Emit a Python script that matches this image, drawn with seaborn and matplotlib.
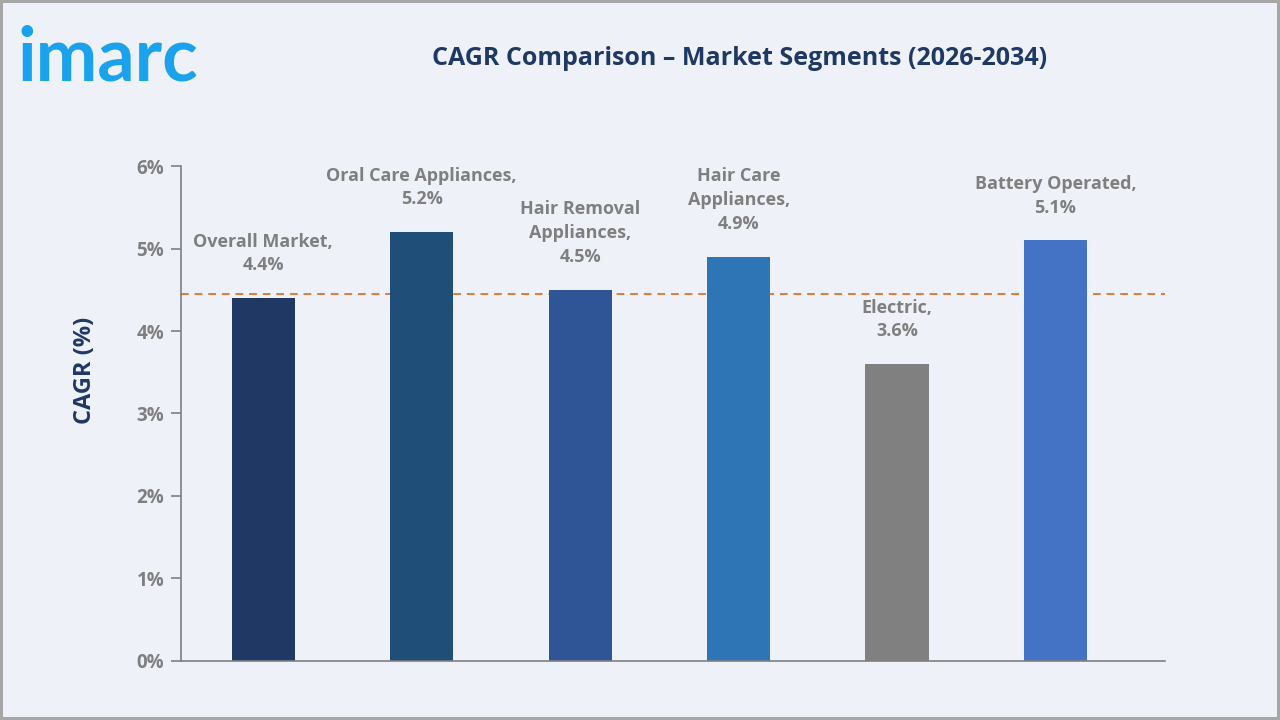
import matplotlib
matplotlib.use("Agg")
import matplotlib.pyplot as plt
import numpy as np
import pandas as pd
import seaborn as sns

# data
segments = ["Overall Market", "Oral Care Appliances", "Hair Removal Appliances",
            "Hair Care Appliances", "Electric", "Battery Operated"]
label_text = ["Overall Market,", "Oral Care Appliances,", "Hair Removal\nAppliances,",
              "Hair Care\nAppliances,", "Electric,", "Battery Operated,"]
cagr = [4.4, 5.2, 4.5, 4.9, 3.6, 5.1]
reference_line = 4.45
y_ticks = [0, 1, 2, 3, 4, 5, 6]

colors = ["#1F3864", "#1F4E79", "#2F5597", "#2E75B6", "#808080", "#4472C4"]
BG = "#EEF2F8"
NAVY = "#1F3864"
GREY = "#7F7F7F"

sns.set_theme(style="white")
plt.rcParams["font.family"] = ["Open Sans", "DejaVu Sans"]

df = pd.DataFrame({"segment": segments, "cagr": cagr})

fig = plt.figure(figsize=(12.8, 7.2), dpi=100)
fig.patch.set_facecolor(BG)
fig.patch.set_edgecolor("#A6A6A6")
fig.patch.set_linewidth(3)

ax = fig.add_axes([0.1414, 0.082, 0.7686, 0.6874])
ax.set_facecolor(BG)

ax.axhline(reference_line, color="#E07B39", linestyle=(0, (4, 3)), linewidth=1.4, zorder=1)

sns.barplot(data=df, x="segment", y="cagr", hue="segment", palette=colors,
            width=0.4, legend=False, ax=ax, zorder=2, saturation=1, linewidth=0)

for i, (txt, v) in enumerate(zip(label_text, cagr)):
    ax.annotate(f"{txt}\n{v:.1f}%", (i, v), xytext=(0, 17), textcoords="offset points",
                ha="center", va="bottom", fontsize=13, fontweight="bold",
                color=GREY, linespacing=1.42)

ax.set_ylim(0, 6)
ax.set_xlim(-0.52, 5.69)
ax.set_yticks(y_ticks)
ax.set_yticklabels([f"{t}%" for t in y_ticks], fontsize=13.5, fontweight="bold", color=GREY)
ax.set_xticks([])
ax.set_xlabel("")
ax.set_ylabel("CAGR (%)", fontsize=17, fontweight="bold", color=NAVY)
ax.yaxis.set_label_coords(-0.085, 0.588)
ax.tick_params(axis="y", which="both", left=True, length=7, width=1.2, color=GREY, pad=5)

for s in ["top", "right"]:
    ax.spines[s].set_visible(False)
for s in ["left", "bottom"]:
    ax.spines[s].set_color(GREY)
    ax.spines[s].set_linewidth(1.2)

fig.text(0.578, 0.919, "CAGR Comparison \u2013 Market Segments (2026-2034)",
         ha="center", va="center", fontsize=18, fontweight="bold", color=NAVY)

# logo
fig.text(0.014, 0.918, "imarc", ha="left", va="center", fontsize=53,
         fontweight="bold", color="#1AA3EC", family=["Lato", "DejaVu Sans"])

fig.savefig("out.png", dpi=100, facecolor=fig.get_facecolor(), edgecolor=fig.get_edgecolor())
